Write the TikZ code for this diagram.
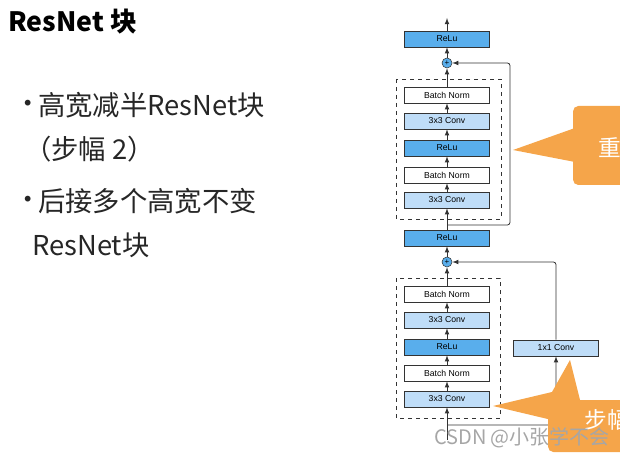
\documentclass[tikz,border=0pt]{standalone}
\usepackage{fontspec}
\setmainfont{Noto Sans CJK SC}
\newfontfamily\lat{Liberation Sans}
\definecolor{dk}{HTML}{59AEEC}
\definecolor{lt}{HTML}{BFDDF8}
\definecolor{org}{HTML}{F5A54A}
\begin{document}
\begin{tikzpicture}[x=0.75pt,y=-0.75pt,
 blk/.style={draw=black!80,line width=0.5pt,minimum width=63.75pt,minimum height=12pt,inner sep=0pt,font=\lat\fontsize{6.5}{6.5}\selectfont},
 d/.style={blk,fill=dk}, l/.style={blk,fill=lt}, w/.style={blk,fill=white},
 ar/.style={-latex,line width=0.6pt,black!80},
 pl/.style={circle,draw=black!80,fill=dk,minimum size=7.5pt,inner sep=0pt,font=\lat\fontsize{6}{6}\selectfont},
 dbox/.style={dashed,line width=0.7pt,black!80},
 bt/.style={anchor=base west,font=\fontsize{20.5}{20.5}\selectfont,text=black!85,inner sep=0pt}]
\useasboundingbox (0,0) rectangle (620,459);
\node[anchor=base west,inner sep=0pt,font=\fontsize{20}{20}\selectfont\bfseries] (title) at (8,32) {ResNet 块};
\node[bt] (b0) at (14,114) {·};
\node[bt] (b1) at (38,116) {高宽减半ResNet块};
\node[bt] (b2) at (24,160) {（步幅 2）};
\node[bt] (b30) at (14,210) {·};
\node[bt] (b3) at (38,212) {后接多个高宽不变};
\node[bt] (b4) at (32,256) {ResNet块};
\coordinate (top) at (447,18);
\node[d] (r3) at (447,39) {ReLu};
\node[pl] (p2) at (447,63) {+};
\node[w] (bn4) at (447,95) {Batch Norm};
\node[l] (c4) at (447,121) {3x3 Conv};
\node[d] (r2b) at (447,148) {ReLu};
\node[w] (bn3) at (447,175) {Batch Norm};
\node[l] (c3) at (447,200) {3x3 Conv};
\node[d] (r2) at (447,238) {ReLu};
\node[pl] (p1) at (447,262) {+};
\node[w] (bn2) at (447,294) {Batch Norm};
\node[l] (c2) at (447,320) {3x3 Conv};
\node[d] (r1) at (447,347) {ReLu};
\node[w] (bn1) at (447,373) {Batch Norm};
\node[l] (c1) at (447,399) {3x3 Conv};
\node[l] (c11) at (556,348) {1x1 Conv};
\coordinate (in) at (447,440);
\draw[dbox] (396,79) rectangle (501,219);
\draw[dbox] (396,278) rectangle (500,418);
\draw[ar] (r3) -- (top);
\draw[ar] (p2) -- (r3);
\draw[ar] (bn4) -- (p2);
\draw[ar] (c4) -- (bn4);
\draw[ar] (r2b) -- (c4);
\draw[ar] (bn3) -- (r2b);
\draw[ar] (c3) -- (bn3);
\draw[ar] (r2) -- (c3);
\draw[ar] (p1) -- (r2);
\draw[ar] (bn2) -- (p1);
\draw[ar] (c2) -- (bn2);
\draw[ar] (r1) -- (c2);
\draw[ar] (bn1) -- (r1);
\draw[ar] (c1) -- (bn1);
\draw[ar] (in) -- (c1);
\draw[ar,rounded corners=2pt] (447,225) -- (510,225) -- (510,63) -- (p2);
\draw[ar,rounded corners=2pt] (447,425) -- (556,425) -- (c11);
\draw[ar,rounded corners=2pt] (c11) -- (556,262) -- (p1);
\fill[org,rounded corners=4pt] (573,106) rectangle (630,185);
\fill[org] (513,150) -- (575,128) -- (575,162) -- cycle;
\node[text=white,font=\fontsize{17}{17}\selectfont] (z) at (610,148) {重};
\fill[org,rounded corners=4pt] (548,400) rectangle (630,452);
\fill[org] (493,406) -- (552,392) -- (570,360) -- (580,400) -- (552,420) -- cycle;
\node[text=white,font=\fontsize{17}{17}\selectfont,anchor=west] (bf) at (580,420) {步幅};
\node[text=black!35,font=\fontsize{15}{15}\selectfont] (wm) at (522,438) {CSDN @小张学不会};
\end{tikzpicture}
\end{document}
